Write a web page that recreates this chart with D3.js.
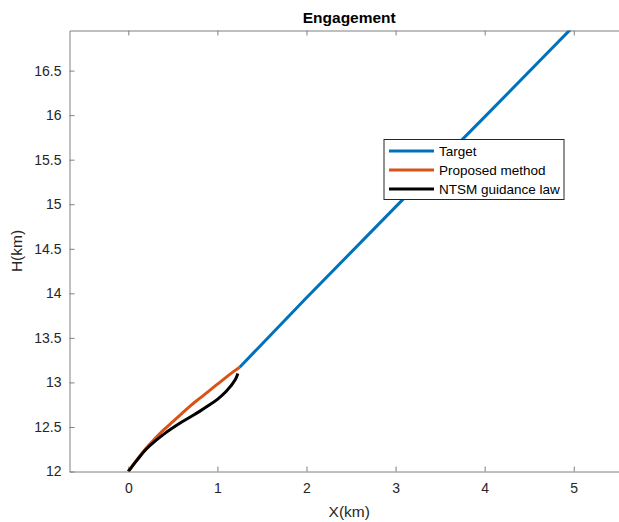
<!DOCTYPE html>
<html>
<head>
<meta charset="utf-8">
<script src="https://cdn.jsdelivr.net/npm/d3@7"></script>
<style>
  html, body { margin: 0; padding: 0; background: #fff; }
  svg { display: block; font-family: "Liberation Sans", Arial, sans-serif; }
</style>
</head>
<body>
<svg id="chart" width="619" height="522"></svg>
<script>
// Trajectories in the X–H plane (km)
const targetX   = [1.25, 2.0, 3.0, 4.0, 5.0];
const targetH   = [13.17, 13.95, 14.97, 15.98, 17.0];

const proposedX = [0, 0.1, 0.2, 0.3, 0.4, 0.5, 0.6, 0.7, 0.8, 0.9, 1.0, 1.1, 1.2, 1.25];
const proposedH = [12, 12.135, 12.26, 12.37, 12.47, 12.56, 12.65, 12.74, 12.82, 12.90, 12.98, 13.06, 13.135, 13.17];

const ntsmX     = [0, 0.1, 0.2, 0.3, 0.4, 0.5, 0.6, 0.7, 0.8, 0.9, 1.0, 1.1, 1.2, 1.23];
const ntsmH     = [12, 12.13, 12.25, 12.34, 12.42, 12.49, 12.555, 12.615, 12.675, 12.74, 12.81, 12.90, 13.03, 13.10];

const xTicks = [0, 1, 2, 3, 4, 5];
const yTicks = [12, 12.5, 13, 13.5, 14, 14.5, 15, 15.5, 16, 16.5];

const seriesNames  = ["Target", "Proposed method", "NTSM guidance law"];
const seriesColors = ["#0072BD", "#D95319", "#000000"];

const svg = d3.select("#chart");
const plotLeft = 69.5, plotRight = 629, plotTop = 30.5, plotBottom = 471.5;

const x = d3.scaleLinear().domain([-0.66, 5.62]).range([plotLeft, plotRight]);
const y = d3.scaleLinear().domain([12, 16.95]).range([plotBottom, plotTop]);

const axisColor = "#808080";
const textColor = "#262626";

svg.append("defs").append("clipPath").attr("id", "plotClip")
  .append("rect").attr("x", plotLeft).attr("y", plotTop)
  .attr("width", plotRight - plotLeft).attr("height", plotBottom - plotTop);

// Axes with inward ticks
const gx = svg.append("g").attr("transform", `translate(0,${plotBottom})`)
  .call(d3.axisBottom(x).tickValues(xTicks).tickFormat(d3.format("d"))
    .tickSizeInner(-5).tickSizeOuter(0).tickPadding(12));
const gxTop = svg.append("g").attr("transform", `translate(0,${plotTop})`)
  .call(d3.axisTop(x).tickValues(xTicks).tickFormat("")
    .tickSizeInner(-5).tickSizeOuter(0));
const gy = svg.append("g").attr("transform", `translate(${plotLeft},0)`)
  .call(d3.axisLeft(y).tickValues(yTicks).tickFormat(d => String(d))
    .tickSizeInner(-5).tickSizeOuter(0).tickPadding(8));

[gx, gxTop, gy].forEach(g => {
  g.select(".domain").attr("stroke", axisColor).attr("stroke-width", 1);
  g.selectAll(".tick line").attr("stroke", axisColor);
  g.selectAll(".tick text").attr("fill", textColor)
    .style("font-size", "14px").style("font-family", "'Liberation Sans', Arial, sans-serif");
});

// Trajectory lines, clipped to the plot box
const line = d3.line().x(d => x(d[0])).y(d => y(d[1]));
const series = [
  d3.zip(targetX, targetH),
  d3.zip(proposedX, proposedH),
  d3.zip(ntsmX, ntsmH)
];
const curves = [d3.curveLinear, d3.curveCatmullRom, d3.curveCatmullRom];

const plot = svg.append("g").attr("clip-path", "url(#plotClip)");
[0, 1, 2].forEach(i => {
  plot.append("path")
    .attr("d", line.curve(curves[i])(series[i]))
    .attr("fill", "none")
    .attr("stroke", seriesColors[i])
    .attr("stroke-width", 3)
    .attr("stroke-linejoin", "round");
});

// Title and axis labels
svg.append("text").attr("x", (plotLeft + plotRight) / 2).attr("y", 23)
  .attr("text-anchor", "middle").attr("fill", "#000")
  .style("font-size", "15.5px").style("font-weight", "bold")
  .text("Engagement");

svg.append("text").attr("x", (plotLeft + plotRight) / 2).attr("y", 517)
  .attr("text-anchor", "middle").attr("fill", textColor)
  .style("font-size", "15.5px").text("X(km)");

svg.append("text")
  .attr("transform", `translate(22,${(plotTop + plotBottom) / 2}) rotate(-90)`)
  .attr("text-anchor", "middle").attr("fill", textColor)
  .style("font-size", "15.5px").text("H(km)");

// Legend
const lg = svg.append("g").attr("transform", "translate(384,139.5)");
lg.append("rect").attr("width", 180).attr("height", 60)
  .attr("fill", "#fff").attr("stroke", "#262626").attr("stroke-width", 1);
seriesNames.forEach((name, i) => {
  const yy = 11.5 + i * 19;
  lg.append("line").attr("x1", 5).attr("x2", 50).attr("y1", yy).attr("y2", yy)
    .attr("stroke", seriesColors[i]).attr("stroke-width", 3);
  lg.append("text").attr("x", 55).attr("y", yy + 4.8)
    .attr("fill", "#000").style("font-size", "13.5px").text(name);
});
</script>
</body>
</html>
